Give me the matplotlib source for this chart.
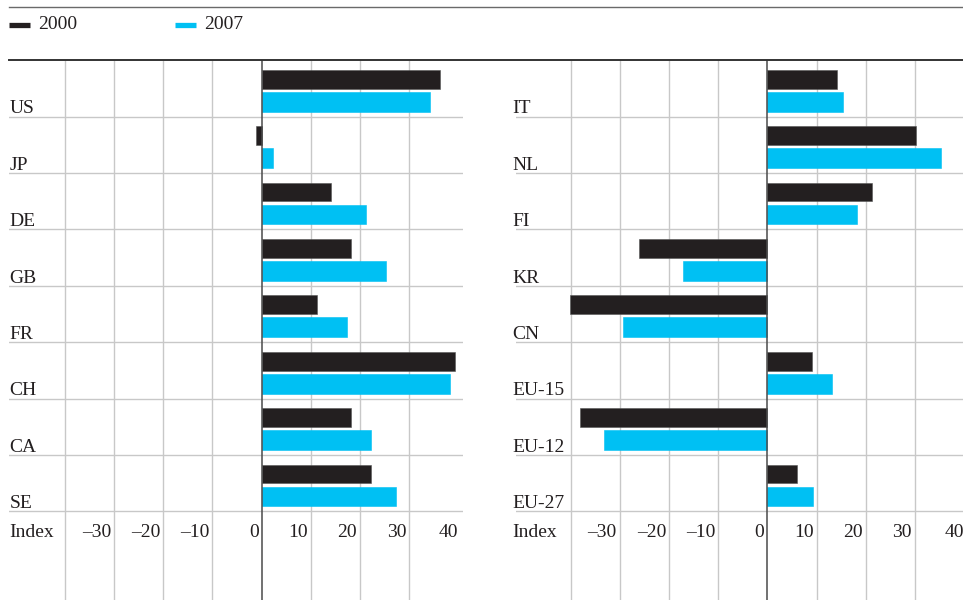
import matplotlib
matplotlib.use("Agg")
import matplotlib.pyplot as plt
from matplotlib.lines import Line2D

plt.rcParams['font.family'] = ['Liberation Serif', 'DejaVu Serif']

# data (index values)
left_cats = ["US", "JP", "DE", "GB", "FR", "CH", "CA", "SE"]
left_2000 = [36.2, -1.2, 14.1, 18.2, 11.2, 39.2, 18.2, 22.2]
left_2007 = [34.3, 2.2, 21.3, 25.3, 17.3, 38.3, 22.3, 27.3]

right_cats = ["IT", "NL", "FI", "KR", "CN", "EU-15", "EU-12", "EU-27"]
right_2000 = [14.2, 30.1, 21.2, -26.1, -40.1, 9.1, -38.1, 6.1]
right_2007 = [15.3, 35.2, 18.3, -17.2, -29.3, 13.2, -33.3, 9.2]

ticks = [-30, -20, -10, 0, 10, 20, 30, 40]
grid_x = [-40, -30, -20, -10, 0, 10, 20, 30]

C_2000 = "#231f20"
C_2007 = "#00c0f3"
GRID = "#c8c8c8"
TXT = "#231f20"

W, H = 963, 600
fig = plt.figure(figsize=(W / 100, H / 100), dpi=100)

PX = 4.92          # pixels per index unit
TOP, BAND = 60.3, 56.4
nband = (H - TOP) / BAND


def panel(x0px, xmin, xmax, cats, v0, v7, lab_x):
    wpx = (xmax - xmin) * PX
    ax = fig.add_axes([x0px / W, 0, wpx / W, (H - TOP) / H])
    ax.set_xlim(xmin, xmax)
    ax.set_ylim(nband, 0)
    ax.axis("off")
    for g in grid_x:
        if g == 0:
            ax.axvline(0, color="#4a4a4a", lw=1.1, zorder=4)
        else:
            ax.axvline(g, color=GRID, lw=1.0, zorder=1)
    for i in range(1, len(cats) + 1):
        ax.axhline(i, color=GRID, lw=1.0, zorder=1)
    ys = range(len(cats))
    ax.barh([y + 0.335 for y in ys], v0, height=0.335, color=C_2000,
            edgecolor="#555555", linewidth=0.4, zorder=2)
    ax.barh([y + 0.735 for y in ys], v7, height=0.35, color=C_2007,
            edgecolor=C_2007, linewidth=0.4, zorder=2)
    for i, c in enumerate(cats):
        ax.text(lab_x, i + 0.94, c, fontsize=14, color=TXT,
                ha="left", va="baseline", clip_on=False)
    yi = len(cats) + 0.45
    ax.text(lab_x, yi, "Index", fontsize=14, color=TXT,
            ha="left", va="baseline", clip_on=False)
    for t in ticks:
        lab = str(t).replace("-", "\u2013")
        off = 0.0 if t == 40 else -0.6
        ax.text(t + off, yi, lab, fontsize=14, color=TXT, ha="right",
                va="baseline", clip_on=False)
    return ax


panel(9.3, -51.3, 40.9, left_cats, left_2000, left_2007, -51.3)
panel(516, -51.1, 39.7, right_cats, right_2000, right_2007, -51.8)

# top rules
fig.add_artist(Line2D([9.3 / W, 1], [1 - 6.7 / H, 1 - 6.7 / H],
                      color="#6a6a6a", lw=1.0))
fig.add_artist(Line2D([9.3 / W, 1], [1 - TOP / H, 1 - TOP / H],
                      color="#333333", lw=1.4))

# legend
ly = 1 - 24.5 / H
fig.add_artist(Line2D([9.3 / W, 30 / W], [ly, ly], color=C_2000, lw=3.8,
                      solid_capstyle="butt"))
fig.text(38.3 / W, 1 - 29.3 / H, "2000", fontsize=14, color=TXT,
         va="baseline")
fig.add_artist(Line2D([175 / W, 196 / W], [ly, ly], color=C_2007, lw=3.8,
                      solid_capstyle="butt"))
fig.text(204 / W, 1 - 29.3 / H, "2007", fontsize=14, color=TXT,
         va="baseline")

fig.savefig("out.png", dpi=100)
